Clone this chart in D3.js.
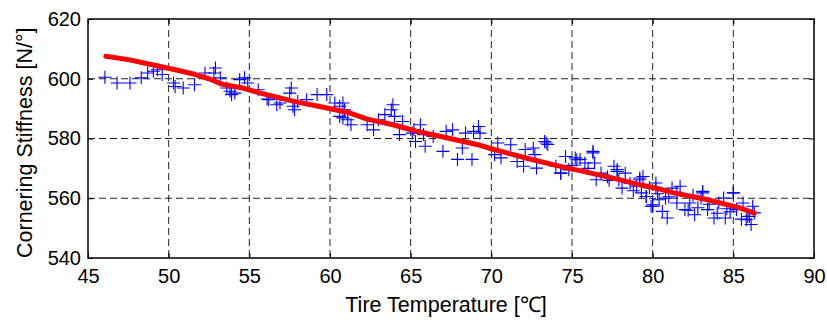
<!DOCTYPE html>
<html>
<head>
<meta charset="utf-8">
<script src="https://cdn.jsdelivr.net/npm/d3@7"></script>
<style>
  body { margin: 0; background: #fff; }
  text { font-family: "Liberation Sans", Arial, sans-serif; fill: #000; }
</style>
</head>
<body>
<div id="chart"></div>
<script>
// measured points (tire temperature, cornering stiffness)
const tempPts = [46.05,46.8,47.6,48.3,48.7,49.05,49.3,49.6,50.3,50.4,50.9,51.6,52.25,52.8,52.9,53.2,53.6,53.8,53.9,54.1,54.4,54.7,54.9,55.55,56.1,56.7,
  56.2,56.9,57.5,57.6,57.7,57.8,58.0,58.55,59.2,59.8,60.3,60.6,60.8,60.9,60.6,60.8,61.1,61.3,62.3,62.7,63.0,63.4,63.8,63.9,64.0,64.3,64.5,65.1,65.3,
  65.2,65.6,65.8,65.9,66.4,67.0,67.2,67.6,67.9,68.2,68.4,68.8,68.9,69.2,69.3,70.2,70.4,70.6,71.2,71.6,72.0,72.1,72.6,72.7,72.8,73.3,73.5,
  74.0,74.3,75.2,75.5,75.8,76.3,76.4,76.5,76.8,77.6,77.8,77.9,78.1,78.3,79.0,79.2,79.3,79.6,80.0,80.2,
  79.4,79.6,79.9,80.2,80.4,80.6,80.9,81.2,81.5,81.7,82.0,82.3,82.6,83.0,83.1,83.4,83.8,84.1,84.4,84.5,85.0,85.2,85.6,85.9,86.1,86.3,86.2,
  73.4,74.3,75.3,76.3,77.8,79.2,80.0,83.1,85.0,85.8,74.8,77.2,78.6,81.0,82.8,84.8,
  81.5,82.5,84.0,85.5,83.5,80.8,78.8,77.3,76.0,75.0,74.6,84.6,86.0,82.2,80.3,79.8];
const stiffPts = [600.5,598.6,598.6,600.3,601.9,602.5,603.0,601.4,598.6,597.4,596.9,598.0,601.9,601.9,603.6,600.3,596.9,595.8,594.7,595.2,599.7,600.3,598.6,596.3,593.2,591.3,
  593.0,591.9,595.2,596.9,590.8,589.6,592.4,593.0,594.7,594.7,591.9,590.8,591.9,589.6,587.4,586.9,586.3,584.6,584.6,582.9,586.3,588.0,589.6,591.3,587.4,581.3,585.7,581.8,579.0,
  583.0,584.6,581.3,577.4,580.7,575.7,582.4,582.9,573.0,576.8,581.8,573.0,582.4,584.0,581.8,574.6,578.5,573.5,577.9,572.3,570.7,576.3,576.8,574.6,570.1,579.0,578.0,
  570.7,568.4,573.5,573.0,571.8,575.2,571.8,566.2,568.4,570.7,569.0,566.2,563.4,568.4,564.0,566.8,561.8,560.6,557.8,565.1,
  567.3,560.6,557.3,563.4,559.5,555.6,553.4,563.4,558.4,564.0,556.2,558.4,554.5,560.1,561.8,556.2,553.4,558.4,560.1,553.4,561.8,556.2,558.4,553.9,551.2,555.1,557.3,
  578.5,568.4,572.9,575.7,569.6,566.2,557.3,562.3,561.8,552.8,569.5,567.2,565.0,560.5,556.8,555.5,
  562.0,561.0,555.0,553.0,558.0,560.0,562.5,566.0,570.0,571.0,574.0,556.5,554.0,556.0,561.5,563.5];

// fitted curve
const fitTemp = [46.1,47.5,49.4,50.4,51.6,52.5,53.3,54.5,55.8,57.7,59.8,61.2,62.3,63.9,65.3,67.0,69.1,70.1,72.2,74.0,75.7,77.8,79.2,80.5,81.3,83.4,85.4,86.3];
const fitStiff = [607.5,606.4,604.2,603.0,601.5,600.0,598.2,597.0,595.0,592.5,590.2,588.6,586.5,584.6,582.5,580.5,578.0,576.4,573.4,571.0,569.0,566.4,564.5,563.0,561.8,559.5,556.8,555.0];

const xTicks = [45,50,55,60,65,70,75,80,85,90];
const yTicks = [540,560,580,600,620];

const W = 827, H = 320;
const margin = {top: 19, right: 13, bottom: 62, left: 88};
const iw = W - margin.left - margin.right;
const ih = H - margin.top - margin.bottom;

const svg = d3.select("#chart").append("svg")
  .attr("width", W).attr("height", H);
const g = svg.append("g").attr("transform", `translate(${margin.left},${margin.top})`);

const x = d3.scaleLinear().domain([45, 90]).range([0, iw]);
const y = d3.scaleLinear().domain([540, 620]).range([ih, 0]);

// dashed grid
g.append("g").selectAll("line").data(xTicks.slice(1, -1)).join("line")
  .attr("x1", d => x(d)).attr("x2", d => x(d)).attr("y1", 0).attr("y2", ih)
  .attr("stroke", "#222").attr("stroke-width", 1).attr("stroke-dasharray", "7,4");
g.append("g").selectAll("line").data(yTicks.slice(1, -1)).join("line")
  .attr("y1", d => y(d)).attr("y2", d => y(d)).attr("x1", 0).attr("x2", iw)
  .attr("stroke", "#222").attr("stroke-width", 1).attr("stroke-dasharray", "7,4");

// scatter crosses
const pts = tempPts.map((t, i) => ({t, s: stiffPts[i]}));
const arm = 6.5;
g.append("g").selectAll("path").data(pts).join("path")
  .attr("d", d => {
    const px = x(d.t), py = y(d.s);
    return `M${px - arm},${py}H${px + arm}M${px},${py - arm}V${py + arm}`;
  })
  .attr("stroke", "#0000ff").attr("stroke-width", 1.1).attr("fill", "none");

// fitted line
const line = d3.line().x((d, i) => x(fitTemp[i])).y(d => y(d));
g.append("path").datum(fitStiff).attr("d", line)
  .attr("fill", "none").attr("stroke", "#ff0000").attr("stroke-width", 5)
  .attr("stroke-linecap", "round").attr("stroke-linejoin", "round");

// axes (ticks inside)
const xAxis = g.append("g").attr("transform", `translate(0,${ih})`)
  .call(d3.axisBottom(x).tickValues(xTicks).tickSize(-5).tickPadding(11));
const yAxis = g.append("g")
  .call(d3.axisLeft(y).tickValues(yTicks).tickSize(-5).tickPadding(7));
[xAxis, yAxis].forEach(a => {
  a.select(".domain").remove();
  a.selectAll("line").attr("stroke", "#000");
  a.selectAll("text").attr("font-size", 20).attr("font-family", "Liberation Sans, Arial, sans-serif");
});
g.append("g")
  .call(d3.axisTop(x).tickValues(xTicks).tickSize(-5).tickFormat(""))
  .call(a => { a.select(".domain").remove(); a.selectAll("line").attr("stroke", "#000"); });
g.append("g").attr("transform", `translate(${iw},0)`)
  .call(d3.axisRight(y).tickValues(yTicks).tickSize(-5).tickFormat(""))
  .call(a => { a.select(".domain").remove(); a.selectAll("line").attr("stroke", "#000"); });

// frame
g.append("rect").attr("width", iw).attr("height", ih)
  .attr("fill", "none").attr("stroke", "#000").attr("stroke-width", 1.5);

// axis titles
svg.append("text")
  .attr("x", 446).attr("y", 312)
  .attr("text-anchor", "middle").attr("font-size", 21.5)
  .text("Tire Temperature [℃]");
svg.append("text")
  .attr("transform", "translate(32,258) rotate(-90)")
  .attr("text-anchor", "start").attr("font-size", 21.5)
  .text("Cornering Stiffness [N/°]");
</script>
</body>
</html>
